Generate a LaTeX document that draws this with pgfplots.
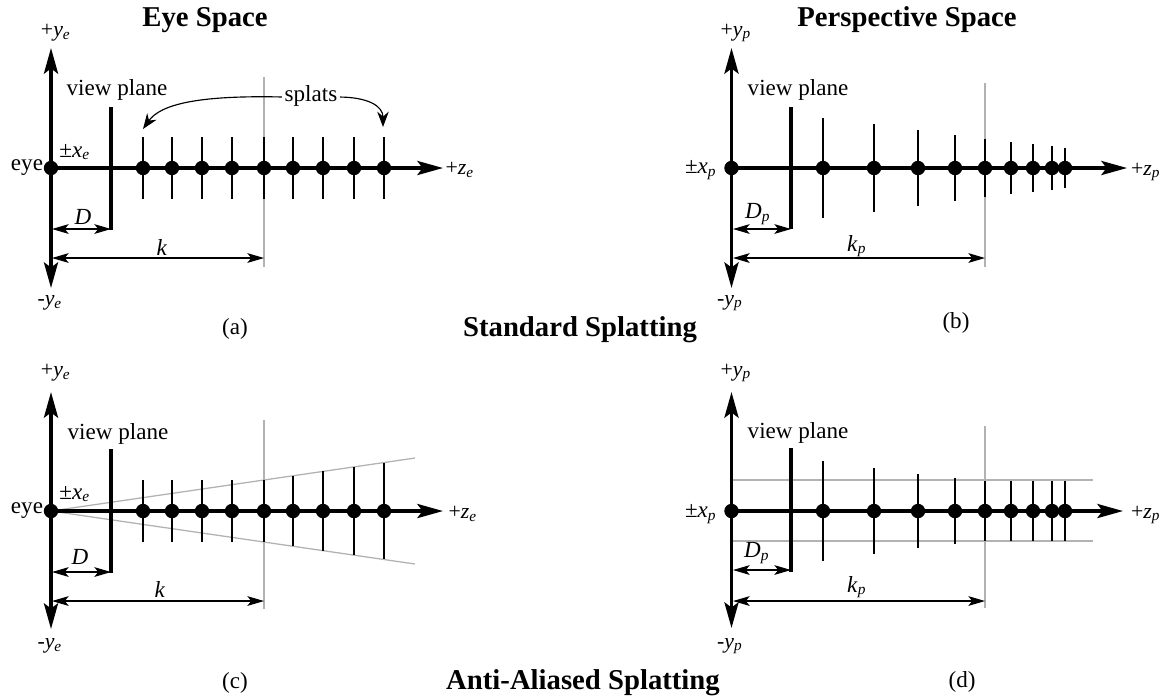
\documentclass[border=0pt]{standalone}
\usepackage{fontspec}
\setmainfont{Liberation Serif}
\usepackage{pgfplots}
\pgfplotsset{compat=1.18}
\usetikzlibrary{arrows.meta}

% italic letter with italic subscript
\newcommand{\sub}[2]{\textit{#1}\textsubscript{\textit{#2}}}

\tikzset{
  Big/.tip={Stealth[length=10pt,width=5.5pt,inset=2pt]},
  Sm/.tip={Stealth[length=6.5pt,width=3.8pt,inset=1.5pt]},
  lbl/.style={font=\fontsize{9}{10}\selectfont, inner sep=0pt},
  sml/.style={font=\fontsize{8.5}{9}\selectfont, inner sep=0pt},
  ttl/.style={font=\fontsize{11.2}{12}\selectfont\bfseries, inner sep=0pt},
}
\pgfplotsset{
  axln/.style={black, line width=1.3pt, mark=none},
  vpl/.style={black, line width=1.2pt, mark=none},
  guide/.style={gray!60, line width=0.5pt, mark=none},
  dim/.style={black, line width=0.45pt, mark=none, Sm-Sm},
  dot/.style={only marks, mark=*, mark size=2.6pt, mark options={fill=black, draw=black}},
  spl/.style={only marks, mark=*, mark size=2.6pt, mark options={fill=black, draw=black},
    error bars/.cd, y dir=both, y explicit, error mark=none,
    error bar style={line width=1pt, black}},
}

\begin{document}
\begin{tikzpicture}
\begin{axis}[
  width=16cm, height=9.570cm, scale only axis,
  xmin=0, xmax=1167, ymin=0, ymax=698, y dir=reverse,
  hide axis, clip=false,
]
% keep the full page
\addplot[draw=none] coordinates {(0,0) (1167,698)};

% ---------------- (a) Eye space, standard
\addplot[guide] coordinates {(264,77) (264,267)};
\addplot[axln, Big-Big] coordinates {(51,288) (51,48)};
\addplot[axln, -Big] coordinates {(51,168) (443,168)};
\addplot[vpl] coordinates {(111,107) (111,230)};
\addplot[dim] coordinates {(52,229) (111,229)};
\addplot[dim] coordinates {(52,258) (264,258)};
\addplot[spl] coordinates {
  (143,168) +- (0,31) (172,168) +- (0,31) (202,168) +- (0,31)
  (232,168) +- (0,31) (264,168) +- (0,31) (293,168) +- (0,31)
  (323,168) +- (0,31) (354,168) +- (0,31) (384,168) +- (0,31)
};
\addplot[dot] coordinates {(51,168)};
\draw[black, line width=0.45pt, -{Stealth[length=6pt,width=4.5pt]}]
  (axis cs:283,97) .. controls (axis cs:195,95) and (axis cs:160,105) .. (axis cs:143,129);
\draw[black, line width=0.45pt, -{Stealth[length=6pt,width=4.5pt]}]
  (axis cs:338,97) .. controls (axis cs:368,97) and (axis cs:383,106) .. (axis cs:383,127);

\node[ttl] at (axis cs:205,20) {Eye Space};
\node[sml] at (axis cs:56,33) {+\sub{y}{e}};
\node[sml] at (axis cs:50,303) {-\sub{y}{e}};
\node[lbl] at (axis cs:27,168) {eye};
\node[lbl] at (axis cs:75,152) {±\sub{x}{e}};
\node[lbl] at (axis cs:117,90) {view plane};
\node[lbl, fill=white, inner xsep=1pt] at (axis cs:311,96) {splats};
\node[lbl] at (axis cs:83,217) {\textit{D}};
\node[lbl] at (axis cs:162,247) {\textit{k}};
\node[sml] at (axis cs:460,170) {+\sub{z}{e}};
\node[lbl] at (axis cs:235,329) {(a)};

% ---------------- (b) Perspective space, standard
\addplot[guide] coordinates {(985,83) (985,267)};
\addplot[axln, Big-Big] coordinates {(731.5,288) (731.5,48)};
\addplot[axln, -Big] coordinates {(731.5,168) (1127,168)};
\addplot[vpl] coordinates {(791,107) (791,229)};
\addplot[dim] coordinates {(733,229) (791,229)};
\addplot[dim] coordinates {(733,258) (985,258)};
\addplot[spl] coordinates {
  (823,168) +- (0,50) (874,168) +- (0,44) (918,168) +- (0,38)
  (955,168) +- (0,33) (985,168) +- (0,29) (1011,168) +- (0,26)
  (1033,168) +- (0,24) (1052,168) +- (0,22) (1065,168) +- (0,20)
};
\addplot[dot] coordinates {(731.5,168)};

\node[ttl] at (axis cs:907,20) {Perspective Space};
\node[sml] at (axis cs:736,33) {+\sub{y}{p}};
\node[sml] at (axis cs:730,303) {-\sub{y}{p}};
\node[lbl] at (axis cs:701,170) {±\sub{x}{p}};
\node[lbl] at (axis cs:798,90) {view plane};
\node[lbl] at (axis cs:758,214) {\sub{D}{p}};
\node[lbl] at (axis cs:857,246) {\sub{k}{p}};
\node[sml] at (axis cs:1146,172) {+\sub{z}{p}};
\node[lbl] at (axis cs:956,323) {(b)};

\node[ttl] at (axis cs:580,330) {Standard Splatting};

% ---------------- (c) Eye space, anti-aliased
\addplot[guide] coordinates {(264,420) (264,609)};
\addplot[guide] coordinates {(51,511) (415,458)};
\addplot[guide] coordinates {(51,511) (415,564)};
\addplot[axln, Big-Big] coordinates {(51,629) (51,392)};
\addplot[axln, -Big] coordinates {(51,511) (443,511)};
\addplot[vpl] coordinates {(111,449) (111,573)};
\addplot[dim] coordinates {(52,572) (111,572)};
\addplot[dim] coordinates {(52,601) (264,601)};
\addplot[spl] coordinates {
  (143,511) +- (0,31) (172,511) +- (0,31) (202,511) +- (0,31)
  (232,511) +- (0,31) (264,511) +- (0,31) (293,511) +- (0,35)
  (323,511) +- (0,40) (354,511) +- (0,44) (384,511) +- (0,48)
};
\addplot[dot] coordinates {(51,511)};

\node[sml] at (axis cs:56,373) {+\sub{y}{e}};
\node[sml] at (axis cs:50,646) {-\sub{y}{e}};
\node[lbl] at (axis cs:27,511) {eye};
\node[lbl] at (axis cs:75,494) {±\sub{x}{e}};
\node[lbl] at (axis cs:118,434) {view plane};
\node[lbl] at (axis cs:80,557) {\textit{D}};
\node[lbl] at (axis cs:160,589) {\textit{k}};
\node[sml] at (axis cs:463,514) {+\sub{z}{e}};
\node[lbl] at (axis cs:235,683) {(c)};

% ---------------- (d) Perspective space, anti-aliased
\addplot[guide] coordinates {(985,426) (985,608)};
\addplot[guide] coordinates {(731.5,480) (1093,480)};
\addplot[guide] coordinates {(731.5,541) (1093,541)};
\addplot[axln, Big-Big] coordinates {(731.5,628) (731.5,392)};
\addplot[axln, -Big] coordinates {(731.5,511) (1123,511)};
\addplot[vpl] coordinates {(791,448) (791,572)};
\addplot[dim] coordinates {(733,570) (791,570)};
\addplot[dim] coordinates {(733,601) (985,601)};
\addplot[spl] coordinates {
  (823,511) +- (0,50) (874,511) +- (0,43) (918,511) +- (0,37)
  (955,511) +- (0,33) (985,511) +- (0,30) (1011,511) +- (0,30)
  (1033,511) +- (0,30) (1052,511) +- (0,30) (1065,511) +- (0,30)
};
\addplot[dot] coordinates {(731.5,511)};

\node[sml] at (axis cs:736,373) {+\sub{y}{p}};
\node[sml] at (axis cs:730,646) {-\sub{y}{p}};
\node[lbl] at (axis cs:701,514) {±\sub{x}{p}};
\node[lbl] at (axis cs:798,433) {view plane};
\node[lbl] at (axis cs:757,553) {\sub{D}{p}};
\node[lbl] at (axis cs:857,587) {\sub{k}{p}};
\node[sml] at (axis cs:1146,515) {+\sub{z}{p}};
\node[lbl] at (axis cs:962,682) {(d)};

\node[ttl] at (axis cs:583,683) {Anti-Aliased Splatting};
\end{axis}
\end{tikzpicture}
\end{document}
